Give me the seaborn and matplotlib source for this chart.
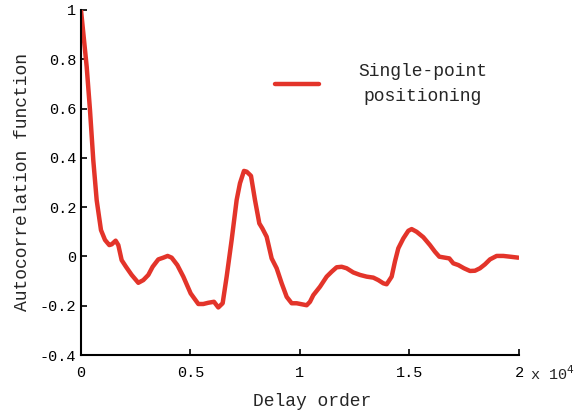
import numpy as np
import pandas as pd
import matplotlib
matplotlib.use("Agg")
import matplotlib.pyplot as plt
import seaborn as sns

# delay order (samples) and autocorrelation values
delay = [0, 260, 411, 562, 717, 913, 1096, 1293, 1400, 1583, 1705, 1857,
         2055, 2314, 2618, 2846, 3075, 3272, 3531, 3759, 3957, 4140, 4399,
         4673, 5008, 5358, 5586, 5814, 6073, 6271, 6469, 6652, 6880, 7108,
         7260, 7443, 7565, 7763, 7945, 8143, 8280, 8478, 8706, 8935, 9164,
         9393, 9621, 9849, 10078, 10306, 10457, 10609, 10913, 11218, 11446,
         11674, 11903, 12131, 12435, 12740, 13044, 13349, 13577, 13805,
         13957, 14186, 14338, 14490, 14718, 14947, 15099, 15327, 15632,
         15936, 16164, 16362, 16621, 16819, 17001, 17230, 17489, 17763,
         17991, 18219, 18447, 18676, 18980, 19285, 19589, 19970]
acf = [1.0, 0.77, 0.594, 0.39, 0.228, 0.107, 0.067, 0.046, 0.049, 0.064,
       0.046, -0.015, -0.042, -0.075, -0.107, -0.096, -0.075, -0.042,
       -0.012, -0.005, 0.002, -0.005, -0.035, -0.082, -0.15, -0.193,
       -0.193, -0.188, -0.184, -0.207, -0.19, -0.082, 0.067, 0.229, 0.297,
       0.347, 0.344, 0.327, 0.229, 0.134, 0.114, 0.080, -0.008, -0.048,
       -0.109, -0.164, -0.19, -0.19, -0.194, -0.198, -0.184, -0.157,
       -0.123, -0.082, -0.062, -0.044, -0.042, -0.048, -0.065, -0.075,
       -0.082, -0.086, -0.096, -0.109, -0.113, -0.082, -0.02, 0.033,
       0.073, 0.104, 0.111, 0.100, 0.078, 0.046, 0.019, -0.001, -0.005,
       -0.008, -0.028, -0.035, -0.048, -0.059, -0.058, -0.048, -0.032,
       -0.012, 0.002, 0.002, -0.001, -0.005]

xticks = [0, 5000, 10000, 15000, 20000]
xticklabels = ["0", "0.5", "1", "1.5", "2"]
yticks = [-0.4, -0.2, 0, 0.2, 0.4, 0.6, 0.8, 1]
yticklabels = ["-0.4", "-0.2", "0", "0.2", "0.4", "0.6", "0.8", "1"]

df = pd.DataFrame({"delay": delay, "acf": acf})

sns.set_style("ticks")
plt.rcParams["font.family"] = ["Liberation Mono", "DejaVu Sans Mono"]

fig = plt.figure(figsize=(5.76, 4.16), dpi=100)
ax = fig.add_axes([0.1406, 0.1466, 0.7604, 0.8294])

sns.lineplot(data=df, x="delay", y="acf", ax=ax, color="#e3342a",
             linewidth=3.2, label="Single-point\npositioning")

ax.set_xlim(0, 20000)
ax.set_ylim(-0.4, 1)
ax.set_xticks(xticks)
ax.set_xticklabels(xticklabels)
ax.set_yticks(yticks)
ax.set_yticklabels(yticklabels)
ax.tick_params(direction="in", length=4, width=1.2, labelsize=11,
               colors="black")
ax.tick_params(axis="x", pad=8)
for s in ["left", "bottom"]:
    ax.spines[s].set_linewidth(1.5)
    ax.spines[s].set_color("black")
sns.despine(ax=ax)

ax.set_xlabel("Delay order", fontsize=13, labelpad=12)
ax.xaxis.set_label_coords(0.527, -0.11)
ax.set_ylabel("Autocorrelation function", fontsize=13, labelpad=6)

ax.text(1.025, -0.028, r"x 10$^4$", transform=ax.transAxes, fontsize=11,
        va="top", ha="left")

leg = ax.legend(loc="center", bbox_to_anchor=(0.686, 0.785), frameon=False,
                fontsize=13, handlelength=2.4, handletextpad=2.2)
for t in leg.get_texts():
    t.set_multialignment("center")
    t.set_linespacing(1.6)

fig.savefig("out.png", dpi=100)
